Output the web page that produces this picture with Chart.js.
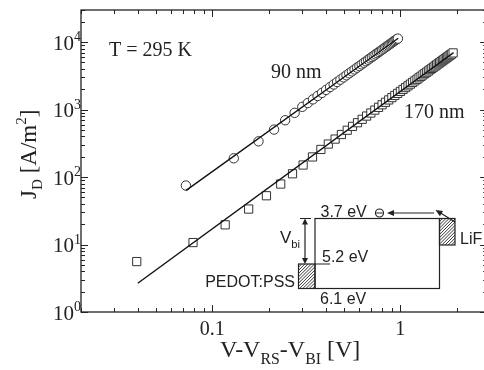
<!DOCTYPE html>
<html>
<head>
<meta charset="utf-8">
<script src="https://cdn.jsdelivr.net/npm/chart.js@4.4.0/dist/chart.umd.min.js"></script>
<style>
html, body { margin: 0; padding: 0; background: #fff; overflow: hidden; }
</style>
</head>
<body>
<canvas id="canvas" width="494" height="370"></canvas>
<script>
// Dữ liệu: mẫu 90 nm (tròn)
const x90 = [0.0723, 0.130, 0.176, 0.213, 0.244, 0.274, 0.301, 0.322, 0.343, 0.363, 0.383, 0.403, 0.423,
    0.442, 0.461, 0.480, 0.499, 0.517, 0.535, 0.553, 0.571, 0.589, 0.606, 0.623, 0.640, 0.657, 0.674,
    0.690, 0.706, 0.722, 0.738, 0.754, 0.770, 0.785, 0.800, 0.815, 0.830, 0.845, 0.860, 0.874, 0.888,
    0.902, 0.916, 0.930, 0.944, 0.957, 0.971];
const y90 = [75, 190, 339, 506, 696, 896, 1101, 1253, 1421, 1592, 1772, 1962, 2162,
    2360, 2567, 2783, 3008, 3229, 3458, 3694, 3939, 4191, 4437, 4689, 4948, 5215, 5488,
    5752, 6022, 6298, 6580, 6868, 7163, 7445, 7732, 8025, 8323, 8626, 8935, 9229, 9526,
    9830, 10137, 10449, 10766, 11064, 11300];

// mẫu 170 nm (vuông)
const x170 = [0.0396, 0.0789, 0.117, 0.156, 0.194, 0.231, 0.267, 0.304, 0.341, 0.378, 0.414, 0.450, 0.486,
    0.522, 0.557, 0.592, 0.627, 0.662, 0.697, 0.732, 0.766, 0.800, 0.834, 0.868, 0.902, 0.935, 0.968,
    1.001, 1.034, 1.067, 1.099, 1.131, 1.163, 1.195, 1.227, 1.258, 1.289, 1.320, 1.351, 1.382, 1.412,
    1.442, 1.472, 1.502, 1.532, 1.561, 1.590, 1.619, 1.648, 1.677, 1.705, 1.733, 1.761, 1.789, 1.817,
    1.844, 1.871, 1.910];
const y170 = [5.59, 10.7, 19.6, 33.6, 52.9, 78.9, 112, 151, 199, 257, 309, 366, 428,
    495, 565, 640, 719, 803, 891, 985, 1081, 1181, 1285, 1393, 1507, 1622, 1741,
    1862, 1990, 2122, 2254, 2389, 2527, 2672, 2818, 2965, 3118, 3273, 3428, 3590, 3750,
    3917, 4083, 4256, 4426, 4603, 4775, 4955, 5140, 5321, 5508, 5689, 5875, 6067, 6266,
    6457, 6653, 6934];

// Đường khớp (hai đầu mút)
const fit90X = [0.0725, 0.975];
const fit90Y = [63.5, 11450];
const fit170X = [0.0401, 1.92];
const fit170Y = [2.67, 7000];

// Nhãn trục
const xTickLabels = [0.1, 1];
const yTickExps = [0, 1, 2, 3, 4];

const SERIF = '"Liberation Serif", "Times New Roman", serif';
const SANS = '"Liberation Sans", Arial, sans-serif';

function toPts(xs, ys) {
    return xs.map((x, i) => ({ x: x, y: ys[i] }));
}

// Vẽ chuỗi có chỉ số trên/dưới
function richText(ctx, parts, x, y, size, family) {
    let cx = x;
    parts.forEach(p => {
        let fs = p.s ? size * 0.66 : size;
        let dy = p.s === 'sub' ? size * 0.28 : (p.s === 'sup' ? -size * 0.42 : 0);
        ctx.font = fs + 'px ' + family;
        ctx.fillText(p.t, cx, y + dy);
        cx += ctx.measureText(p.t).width;
    });
    return cx - x;
}

function hatch(ctx, x0, y0, w, h) {
    ctx.save();
    ctx.beginPath();
    ctx.rect(x0, y0, w, h);
    ctx.clip();
    ctx.lineWidth = 0.9;
    ctx.beginPath();
    for (let k = -h; k < w + h; k += 3.2) {
        ctx.moveTo(x0 + k, y0 + h);
        ctx.lineTo(x0 + k + h, y0);
    }
    ctx.stroke();
    ctx.restore();
    ctx.lineWidth = 1.2;
    ctx.strokeRect(x0, y0, w, h);
}

function arrowHead(ctx, x1, y1, x2, y2, len, wid) {
    let a = Math.atan2(y2 - y1, x2 - x1);
    ctx.beginPath();
    ctx.moveTo(x2, y2);
    ctx.lineTo(x2 - len * Math.cos(a) + wid * Math.sin(a), y2 - len * Math.sin(a) - wid * Math.cos(a));
    ctx.lineTo(x2 - len * Math.cos(a) - wid * Math.sin(a), y2 - len * Math.sin(a) + wid * Math.cos(a));
    ctx.closePath();
    ctx.fill();
}

const decor = {
    id: 'decor',
    afterDraw(chart) {
        const ctx = chart.ctx;
        const a = chart.chartArea;
        const xs = chart.scales.x, ys = chart.scales.y;
        ctx.save();
        ctx.strokeStyle = '#222';
        ctx.fillStyle = '#222';
        ctx.lineWidth = 1.3;
        ctx.strokeRect(a.left, a.top, a.right - a.left, a.bottom - a.top);

        // vạch chia trục x
        ctx.lineWidth = 1;
        ctx.beginPath();
        for (let d = 0.01; d < 10; d *= 10) {
            for (let m = 1; m < 10; m++) {
                let v = d * m;
                if (v < xs.min - 1e-9 || v > xs.max) continue;
                let px = Math.round(xs.getPixelForValue(v)) + 0.5;
                let len = m === 1 ? 7 : 4;
                ctx.moveTo(px, a.bottom); ctx.lineTo(px, a.bottom - len);
                ctx.moveTo(px, a.top); ctx.lineTo(px, a.top + len);
            }
        }
        // vạch chia trục y
        for (let d = 1; d < 1e5; d *= 10) {
            for (let m = 1; m < 10; m++) {
                let v = d * m;
                if (v < ys.min || v > ys.max) continue;
                let py = Math.round(ys.getPixelForValue(v)) + 0.5;
                let len = m === 1 ? 7 : 4;
                ctx.moveTo(a.left, py); ctx.lineTo(a.left + len, py);
                ctx.moveTo(a.right, py); ctx.lineTo(a.right - len, py);
            }
        }
        ctx.stroke();

        // nhãn vạch
        ctx.textBaseline = 'alphabetic';
        ctx.textAlign = 'center';
        ctx.font = '20px ' + SERIF;
        xTickLabels.forEach(v => {
            ctx.fillText(String(v), xs.getPixelForValue(v), a.bottom + 23);
        });
        yTickExps.forEach(e => {
            let py = ys.getPixelForValue(Math.pow(10, e));
            ctx.textAlign = 'right';
            ctx.font = '21px ' + SERIF;
            ctx.fillText('10', a.left - 7, py + 7.5);
            ctx.textAlign = 'left';
            ctx.font = '14px ' + SERIF;
            ctx.fillText(String(e), a.left - 7, py - 1);
        });

        // tiêu đề trục
        ctx.textAlign = 'left';
        richText(ctx, [{ t: 'V-V' }, { t: 'RS', s: 'sub' }, { t: '-V' }, { t: 'BI', s: 'sub' }, { t: ' [V]' }],
            220, 357, 24, SERIF);
        ctx.save();
        ctx.translate(36, 199);
        ctx.rotate(-Math.PI / 2);
        richText(ctx, [{ t: 'J' }, { t: 'D', s: 'sub' }, { t: ' [A/m' }, { t: '2', s: 'sup' }, { t: ']' }],
            0, 0, 23, SERIF);
        ctx.restore();

        // chú thích
        ctx.font = '20px ' + SERIF;
        ctx.fillText('T = 295 K', 109, 56);
        ctx.fillText('90 nm', 271, 78);
        ctx.fillText('170 nm', 404, 118);

        // sơ đồ năng lượng
        ctx.lineWidth = 1.2;
        ctx.strokeRect(315, 218.5, 124.5, 70);
        hatch(ctx, 298.5, 264, 16.5, 24.5);
        hatch(ctx, 439.5, 218.5, 15.5, 26.5);
        ctx.beginPath();
        ctx.moveTo(315, 264); ctx.lineTo(330, 264);
        // V_bi
        ctx.moveTo(305, 223); ctx.lineTo(305, 259);
        ctx.moveTo(300, 218.5); ctx.lineTo(311, 218.5);
        // mũi tên ngang
        ctx.moveTo(434, 213); ctx.lineTo(392, 213);
        ctx.moveTo(455, 222); ctx.lineTo(439, 212);
        ctx.stroke();
        arrowHead(ctx, 305, 240, 305, 218.5, 6, 3);
        arrowHead(ctx, 305, 240, 305, 264, 6, 3);
        arrowHead(ctx, 434, 213, 387, 213, 7, 3);
        arrowHead(ctx, 455, 222, 435.5, 210, 7, 3);
        // electron
        ctx.beginPath();
        ctx.arc(379.5, 213, 4, 0, Math.PI * 2);
        ctx.moveTo(376.5, 213); ctx.lineTo(382.5, 213);
        ctx.stroke();

        ctx.font = '16px ' + SANS;
        ctx.textAlign = 'left';
        ctx.fillText('3.7 eV', 320.5, 217);
        ctx.fillText('5.2 eV', 322, 261.5);
        ctx.fillText('6.1 eV', 320, 304);
        ctx.fillText('LiF', 460, 244);
        richText(ctx, [{ t: 'V' }, { t: 'bi', s: 'sub' }], 280, 243, 17, SANS);
        ctx.textAlign = 'right';
        ctx.font = '16px ' + SANS;
        ctx.fillText('PEDOT:PSS', 295, 287);
        ctx.restore();
    }
};

const config = {
    type: 'scatter',
    data: {
        datasets: [
            {
                label: '90 nm fit', type: 'line', order: 0,
                data: toPts(fit90X, fit90Y),
                borderColor: '#111', borderWidth: 1.4, pointRadius: 0, fill: false
            },
            {
                label: '170 nm fit', type: 'line', order: 0,
                data: toPts(fit170X, fit170Y),
                borderColor: '#111', borderWidth: 1.4, pointRadius: 0, fill: false
            },
            {
                label: '90 nm', order: 1,
                data: toPts(x90, y90),
                pointStyle: 'circle', pointRadius: 4.7,
                borderColor: '#333', borderWidth: 1, backgroundColor: '#fff'
            },
            {
                label: '170 nm', order: 1,
                data: toPts(x170, y170),
                pointStyle: 'rect', pointRadius: 5.8,
                borderColor: '#333', borderWidth: 1, backgroundColor: '#fff'
            }
        ]
    },
    options: {
        responsive: false,
        animation: false,
        layout: { padding: { left: 81, top: 10, right: 5, bottom: 58 } },
        plugins: { legend: { display: false }, tooltip: { enabled: false } },
        scales: {
            x: { type: 'logarithmic', min: 0.02, max: 2.9, display: false },
            y: { type: 'logarithmic', min: 1, max: 30000, display: false }
        }
    },
    plugins: [decor]
};

new Chart('canvas', config);
</script>
</body>
</html>
